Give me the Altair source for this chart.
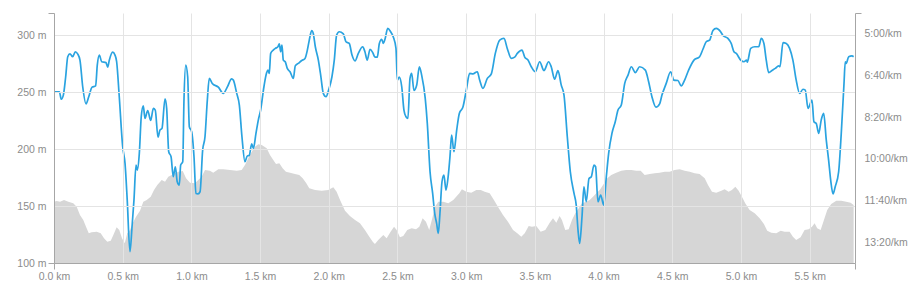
import altair as alt
import pandas as pd

# ---- data ----
pace_km = [0.000,0.039,0.053,0.068,0.085,0.100,0.116,0.136,0.155,0.172,
0.189,0.209,0.233,0.253,0.277,0.303,0.315,0.330,0.347,0.378,
0.391,0.402,0.427,0.444,0.456,0.475,0.500,0.517,0.533,0.553,
0.568,0.582,0.597,0.606,0.621,0.635,0.650,0.662,0.682,0.704,
0.723,0.737,0.757,0.771,0.786,0.808,0.820,0.835,0.852,0.868,
0.883,0.897,0.912,0.922,0.937,0.946,0.959,0.973,0.985,1.002,
1.019,1.033,1.048,1.063,1.082,1.099,1.116,1.130,1.152,1.196,
1.232,1.261,1.293,1.305,1.330,1.349,1.368,1.390,1.407,1.421,
1.439,1.451,1.470,1.487,1.504,1.528,1.548,1.557,1.567,1.577,
1.596,1.611,1.630,1.640,1.650,1.659,1.669,1.683,1.698,1.718,
1.742,1.756,1.778,1.803,1.827,1.844,1.858,1.876,1.887,1.902,
1.924,1.941,1.960,1.980,1.999,2.023,2.040,2.057,2.076,2.106,
2.125,2.149,2.169,2.191,2.215,2.247,2.263,2.280,2.300,2.320,
2.336,2.353,2.368,2.385,2.397,2.409,2.429,2.450,2.469,2.489,
2.499,2.513,2.531,2.547,2.562,2.576,2.591,2.603,2.620,2.640,
2.659,2.676,2.702,2.717,2.737,2.756,2.771,2.785,2.797,2.809,
2.824,2.838,2.853,2.870,2.882,2.894,2.911,2.931,2.950,
2.977,3.001,3.025,3.049,3.081,3.098,3.122,3.154,3.183,3.212,
3.244,3.275,3.299,3.328,3.353,3.372,3.406,3.426,3.450,3.474,
3.503,3.535,3.566,3.600,3.619,3.644,3.668,3.692,3.712,3.736,
3.758,3.785,3.801,3.814,3.826,3.843,3.857,3.874,3.894,3.911,
3.930,3.942,3.959,3.979,4.001,4.020,4.037,4.061,4.085,4.105,
4.129,4.154,4.178,4.202,4.231,4.263,4.304,4.328,4.352,4.381,
4.408,4.425,4.456,4.488,4.512,4.541,4.565,4.590,4.619,4.658,
4.699,4.723,4.747,4.772,4.796,4.820,4.852,4.869,4.905,4.929,
4.949,4.966,4.998,5.022,5.041,5.046,5.071,5.100,5.129,5.148,
5.167,5.184,5.202,5.226,5.250,5.274,5.284,5.306,5.330,5.354,
5.378,5.402,5.427,5.451,5.468,5.488,5.517,5.531,5.548,5.566,
5.584,5.602,5.621,5.638,5.653,5.670,5.686,5.711,5.730,5.750,
5.759,5.766,5.784,5.808,5.820]

# pace in seconds per km
pace_s = [439,439,457,447,403,355,348,355,343,348,
363,427,468,451,428,425,375,351,367,369,
380,364,344,351,367,451,571,611,699,823,
763,699,615,627,587,499,473,503,484,508,
479,483,548,531,527,456,479,583,595,643,
619,655,663,615,607,459,375,403,523,535,
595,683,684,679,579,547,459,407,419,428,
443,428,408,411,443,471,547,607,593,592,
564,575,539,507,483,427,393,387,395,347,
339,335,331,324,343,327,363,367,383,391,
407,377,371,364,359,339,315,292,299,331,
363,399,443,451,435,403,363,303,295,300,
319,323,351,365,347,331,343,363,337,345,
356,356,323,313,323,313,287,295,307,335,
411,404,427,483,499,503,407,395,436,423,
379,399,455,515,631,683,731,755,779,731,
655,639,675,639,595,543,583,531,491,
475,435,395,396,391,411,431,407,396,347,
315,311,335,359,356,347,339,356,363,379,
391,367,388,367,379,409,388,423,447,547,
631,683,711,771,803,739,667,703,647,643,
615,619,703,687,711,643,587,539,511,483,
471,419,399,379,393,379,387,415,451,476,
468,447,419,391,411,412,425,411,387,363,
355,337,319,315,292,287,295,304,311,323,
343,347,363,367,363,368,335,331,331,311,
323,363,393,388,383,377,379,321,323,335,
363,411,443,433,435,479,459,511,515,539,
507,491,555,603,651,684,667,631,539,419,
367,371,355,353,355]

elev_km = [0.000,0.020,0.044,0.073,0.104,0.140,0.165,0.189,0.213,0.233,
0.253,0.274,0.311,0.340,0.364,0.388,0.413,0.432,0.456,0.475,
0.495,0.515,0.533,0.553,0.573,0.597,0.626,0.650,0.675,0.704,
0.728,0.752,0.784,0.808,0.832,0.857,0.881,0.905,0.937,0.961,
0.990,1.026,1.050,1.075,1.099,1.135,1.159,1.196,1.232,1.281,
1.330,1.366,1.390,1.414,1.439,1.463,1.487,1.512,1.548,1.572,
1.596,1.616,1.640,1.664,1.688,1.718,1.754,1.785,1.810,1.834,
1.858,1.900,1.948,1.996,2.033,2.057,2.082,2.118,2.154,2.191,
2.227,2.263,2.295,2.320,2.336,2.360,2.397,2.421,2.450,2.475,
2.494,2.518,2.542,2.571,2.603,2.635,2.659,2.683,2.707,2.731,
2.756,2.773,2.797,2.833,2.870,2.906,2.950,2.969,3.001,3.037,
3.074,3.106,3.135,3.171,3.202,3.231,3.268,3.304,3.341,3.372,
3.401,3.426,3.455,3.479,3.510,3.542,3.576,3.608,3.632,3.656,
3.680,3.697,3.721,3.746,3.770,3.794,3.819,3.843,3.874,3.899,
3.923,3.947,3.972,3.996,4.027,4.056,4.092,4.129,4.165,4.202,
4.238,4.270,4.299,4.336,4.372,4.408,4.445,4.481,4.517,4.554,
4.590,4.627,4.663,4.699,4.736,4.760,4.789,4.820,4.857,4.881,
4.910,4.934,4.959,4.983,5.007,5.031,5.063,5.100,5.136,5.167,
5.191,5.221,5.257,5.289,5.318,5.354,5.378,5.402,5.434,5.463,
5.493,5.517,5.536,5.555,5.580,5.604,5.628,5.657,5.694,5.730,
5.766,5.798,5.820]

elev_m = [153.8,154.4,153.8,155.3,153.8,152.4,149.4,142.1,137.7,131.8,
126.1,126.9,127.5,126.1,121.7,118.7,119.6,124.6,131.3,128.9,
121.7,117.3,126.1,128.9,134.8,140.6,145.9,153.8,155.3,158.2,
164.0,168.4,172.8,171.3,175.7,177.2,178.7,180.1,180.7,174.3,
170.4,169.9,172.8,175.7,181.6,181.0,179.2,182.2,182.2,181.6,
181.0,181.6,186.0,191.8,197.6,202.0,204.1,203.5,200.6,194.7,
190.4,186.8,187.5,183.1,180.1,179.2,178.1,177.2,174.3,170.4,
165.5,164.0,163.4,164.0,166.4,162.5,155.3,145.9,141.2,137.7,
134.8,128.9,123.1,118.7,116.7,120.2,124.6,121.7,127.5,131.8,
128.9,122.5,123.7,128.9,130.4,129.6,131.8,139.2,136.2,128.9,
140.6,149.4,153.8,153.8,152.4,155.3,161.1,164.6,162.5,161.7,
164.0,164.0,162.5,161.1,155.3,149.4,142.1,136.2,128.9,126.1,
123.1,126.1,132.5,131.8,132.5,127.5,128.9,135.4,139.2,135.4,
141.2,137.7,128.9,129.6,137.7,143.6,148.0,152.4,153.8,155.3,
158.2,161.1,164.0,168.4,174.3,177.2,179.2,181.0,181.6,181.6,
181.0,181.0,177.2,178.1,178.7,179.2,180.1,180.1,181.6,182.2,
181.0,180.1,178.7,178.1,174.3,168.4,162.5,161.7,163.4,164.6,
162.5,164.0,166.9,163.4,158.2,152.4,146.5,143.6,139.2,134.2,
128.3,126.6,126.1,128.3,127.5,127.5,123.1,120.2,122.5,128.9,
129.6,131.8,134.8,130.4,128.9,137.7,146.5,151.8,154.6,154.6,
153.8,152.9,150.9]

x_ticks = [0.0, 0.5, 1.0, 1.5, 2.0, 2.5, 3.0, 3.5, 4.0, 4.5, 5.0, 5.5]
elev_ticks = [100, 150, 200, 250, 300]
pace_ticks = [300, 400, 500, 600, 700, 800]

X_MAX = 5.83
ELEV_DOMAIN = [100, 319.3]
PACE_DOMAIN = [250, 850]

elev_df = pd.DataFrame({"km": elev_km, "elev": elev_m})
pace_df = pd.DataFrame({"km": pace_km, "pace": pace_s})

LABEL = dict(labelFont="Liberation Sans", labelFontSize=10.5, labelColor="#8c8c8c")
AXIS_GREY = "#a6a6a6"
GRID = "#e4e4e4"

x_axis = alt.Axis(
    values=x_ticks + [X_MAX],
    labelExpr="datum.value > 5.6 ? '' : format(datum.value, '.1f') + ' km'",
    grid=True, gridColor=GRID,
    gridOpacity={"condition": {"test": "datum.value > 5.6", "value": 0}, "value": 1},
    tickSize=6, tickColor=AXIS_GREY,
    tickOpacity={"condition": {"test": "datum.value == 0 || datum.value > 5.6", "value": 1}, "value": 0},
    domainColor=AXIS_GREY, labelPadding=2, labelFlush=False, title=None, zindex=1,
    **LABEL,
)

x_enc = alt.X("km:Q", scale=alt.Scale(domain=[0, X_MAX], nice=False, zero=False), axis=x_axis)

elev_axis = alt.Axis(
    values=elev_ticks + [ELEV_DOMAIN[1]],
    labelExpr="datum.value > 310 ? '' : datum.value + ' m'",
    grid=True, gridColor=GRID,
    gridOpacity={"condition": {"test": "datum.value > 310", "value": 0}, "value": 1},
    tickSize=6, tickColor=AXIS_GREY,
    tickOpacity={"condition": {"test": "datum.value == 100 || datum.value > 310", "value": 1}, "value": 0},
    domainColor=AXIS_GREY, labelPadding=2, title=None, zindex=1,
    **LABEL,
)

pace_axis = alt.Axis(
    orient="right",
    values=[PACE_DOMAIN[0]] + pace_ticks,
    labelExpr="datum.value < 280 ? '' : floor(datum.value / 60) + ':' + (datum.value % 60 < 10 ? '0' : '') + (datum.value % 60) + '/km'",
    grid=False,
    tickSize=6, tickColor=AXIS_GREY,
    tickOpacity={"condition": {"test": "datum.value < 280", "value": 1}, "value": 0},
    domainColor=AXIS_GREY, labelPadding=3, title=None, zindex=1,
    **LABEL,
)

area = alt.Chart(elev_df).mark_area(color="#d6d6d6", clip=True).encode(
    x=x_enc,
    y=alt.Y("elev:Q", scale=alt.Scale(domain=ELEV_DOMAIN, nice=False, zero=False), axis=elev_axis),
    y2=alt.datum(ELEV_DOMAIN[0]),
)

line = alt.Chart(pace_df).mark_line(
    color="#2aa3e0", strokeWidth=1.7, interpolate="monotone", clip=True
).encode(
    x=x_enc,
    y=alt.Y("pace:Q", scale=alt.Scale(domain=PACE_DOMAIN, nice=False, zero=False, reverse=True), axis=pace_axis),
)

chart = (
    alt.layer(area, line)
    .resolve_scale(y="independent")
    .properties(
        width=801, height=250,
        autosize=alt.AutoSizeParams(type="none"),
        padding={"left": 54, "top": 13, "right": 63, "bottom": 33},
        background="white",
    )
    .configure_view(strokeOpacity=0)
)

chart.save("out.html", embed_options={"renderer": "svg", "actions": False})
